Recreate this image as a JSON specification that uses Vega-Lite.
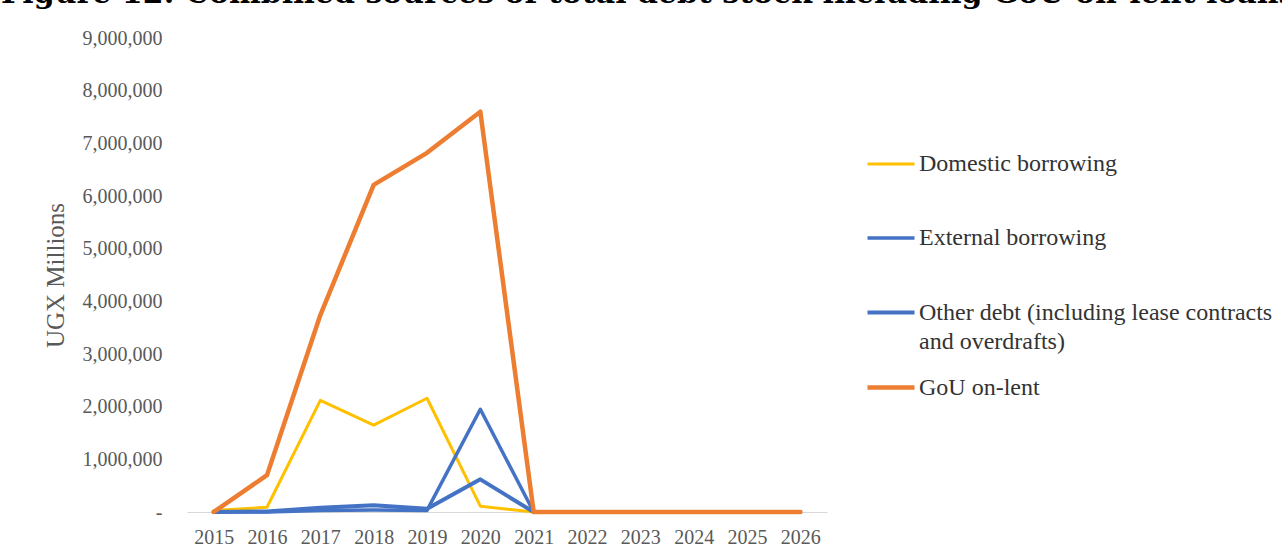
{
  "$schema": "https://vega.github.io/schema/vega-lite/v6.json",
  "width": 640,
  "height": 474,
  "autosize": "none",
  "padding": {"left": 187, "top": 38, "right": 455, "bottom": 45},
  "background": "white",
  "title": {
    "text": "Figure 12: Combined sources of total debt stock including GoU on-lent loans",
    "anchor": "start",
    "frame": "group",
    "dx": -186,
    "offset": 19,
    "font": "DejaVu Serif",
    "fontSize": 30,
    "fontWeight": "bold",
    "color": "#000000"
  },
  "config": {
    "view": {"stroke": null},
    "font": "Liberation Serif"
  },
  "data": {
    "values": [
      {"year": "2015", "series": "Domestic borrowing", "value": 30000},
      {"year": "2016", "series": "Domestic borrowing", "value": 90000},
      {"year": "2017", "series": "Domestic borrowing", "value": 2120000},
      {"year": "2018", "series": "Domestic borrowing", "value": 1650000},
      {"year": "2019", "series": "Domestic borrowing", "value": 2160000},
      {"year": "2020", "series": "Domestic borrowing", "value": 110000},
      {"year": "2021", "series": "Domestic borrowing", "value": 0},
      {"year": "2022", "series": "Domestic borrowing", "value": 0},
      {"year": "2023", "series": "Domestic borrowing", "value": 0},
      {"year": "2024", "series": "Domestic borrowing", "value": 0},
      {"year": "2025", "series": "Domestic borrowing", "value": 0},
      {"year": "2026", "series": "Domestic borrowing", "value": 0},
      {"year": "2015", "series": "External borrowing", "value": 0},
      {"year": "2016", "series": "External borrowing", "value": 0},
      {"year": "2017", "series": "External borrowing", "value": 30000},
      {"year": "2018", "series": "External borrowing", "value": 40000},
      {"year": "2019", "series": "External borrowing", "value": 30000},
      {"year": "2020", "series": "External borrowing", "value": 1950000},
      {"year": "2021", "series": "External borrowing", "value": 0},
      {"year": "2022", "series": "External borrowing", "value": 0},
      {"year": "2023", "series": "External borrowing", "value": 0},
      {"year": "2024", "series": "External borrowing", "value": 0},
      {"year": "2025", "series": "External borrowing", "value": 0},
      {"year": "2026", "series": "External borrowing", "value": 0},
      {"year": "2015", "series": "Other debt (including lease contracts and overdrafts)", "value": 0},
      {"year": "2016", "series": "Other debt (including lease contracts and overdrafts)", "value": 10000},
      {"year": "2017", "series": "Other debt (including lease contracts and overdrafts)", "value": 80000},
      {"year": "2018", "series": "Other debt (including lease contracts and overdrafts)", "value": 130000},
      {"year": "2019", "series": "Other debt (including lease contracts and overdrafts)", "value": 60000},
      {"year": "2020", "series": "Other debt (including lease contracts and overdrafts)", "value": 620000},
      {"year": "2021", "series": "Other debt (including lease contracts and overdrafts)", "value": 0},
      {"year": "2022", "series": "Other debt (including lease contracts and overdrafts)", "value": 0},
      {"year": "2023", "series": "Other debt (including lease contracts and overdrafts)", "value": 0},
      {"year": "2024", "series": "Other debt (including lease contracts and overdrafts)", "value": 0},
      {"year": "2025", "series": "Other debt (including lease contracts and overdrafts)", "value": 0},
      {"year": "2026", "series": "Other debt (including lease contracts and overdrafts)", "value": 0},
      {"year": "2015", "series": "GoU on-lent", "value": 0},
      {"year": "2016", "series": "GoU on-lent", "value": 700000},
      {"year": "2017", "series": "GoU on-lent", "value": 3740000},
      {"year": "2018", "series": "GoU on-lent", "value": 6210000},
      {"year": "2019", "series": "GoU on-lent", "value": 6820000},
      {"year": "2020", "series": "GoU on-lent", "value": 7600000},
      {"year": "2021", "series": "GoU on-lent", "value": 0},
      {"year": "2022", "series": "GoU on-lent", "value": 0},
      {"year": "2023", "series": "GoU on-lent", "value": 0},
      {"year": "2024", "series": "GoU on-lent", "value": 0},
      {"year": "2025", "series": "GoU on-lent", "value": 0},
      {"year": "2026", "series": "GoU on-lent", "value": 0}
    ]
  },
  "mark": {"type": "line", "strokeCap": "round", "strokeJoin": "round"},
  "encoding": {
    "x": {
      "field": "year",
      "type": "ordinal",
      "scale": {"type": "point", "padding": 0.5},
      "axis": {
        "title": null,
        "labelAngle": 0,
        "labelFont": "Liberation Serif",
        "labelFontSize": 20,
        "labelColor": "#595959",
        "labelPadding": 15,
        "ticks": false,
        "domain": true,
        "domainColor": "#D9D9D9",
        "domainWidth": 1,
        "grid": false
      }
    },
    "y": {
      "field": "value",
      "type": "quantitative",
      "scale": {"domain": [0, 9000000], "nice": false},
      "axis": {
        "title": "UGX Millions",
        "titleFont": "Liberation Serif",
        "titleFontSize": 25,
        "titleFontWeight": "normal",
        "titleColor": "#595959",
        "titlePadding": 14,
        "labelFont": "Liberation Serif",
        "labelFontSize": 20,
        "labelColor": "#595959",
        "labelPadding": 25,
        "values": [0, 1000000, 2000000, 3000000, 4000000, 5000000, 6000000, 7000000, 8000000, 9000000],
        "labelExpr": "datum.value == 0 ? '-\u00a0\u00a0\u00a0' : format(datum.value, ',')",
        "domain": false,
        "ticks": false,
        "grid": false
      }
    },
    "color": {
      "field": "series",
      "type": "nominal",
      "scale": {
        "domain": ["Domestic borrowing", "External borrowing", "Other debt (including lease contracts and overdrafts)", "GoU on-lent"],
        "range": ["#FFC000", "#4472C4", "#4472C4", "#ED7D31"]
      },
      "legend": {
        "title": null,
        "orient": "none",
        "legendX": 678,
        "legendY": 101,
        "padding": 0,
        "symbolType": "stroke",
        "symbolSize": 2209,
        "symbolStrokeWidth": 3.5,
        "labelOffset": 2,
        "labelFont": "Liberation Serif",
        "labelFontSize": 24,
        "labelColor": "#333333",
        "labelLimit": 600,
        "rowPadding": 7.5,
        "labelExpr": "datum.label == 'Other debt (including lease contracts and overdrafts)' ? ['Other debt (including lease contracts', 'and overdrafts)'] : [datum.label, ' ']",
        "encode": {"labels": {"update": {"lineHeight": {"value": 29}}}}
      }
    },
    "strokeWidth": {
      "field": "series",
      "type": "nominal",
      "scale": {
        "domain": ["Domestic borrowing", "External borrowing", "Other debt (including lease contracts and overdrafts)", "GoU on-lent"],
        "range": [3, 4.5, 4.5, 3]
      },
      "legend": null
    }
  }
}
